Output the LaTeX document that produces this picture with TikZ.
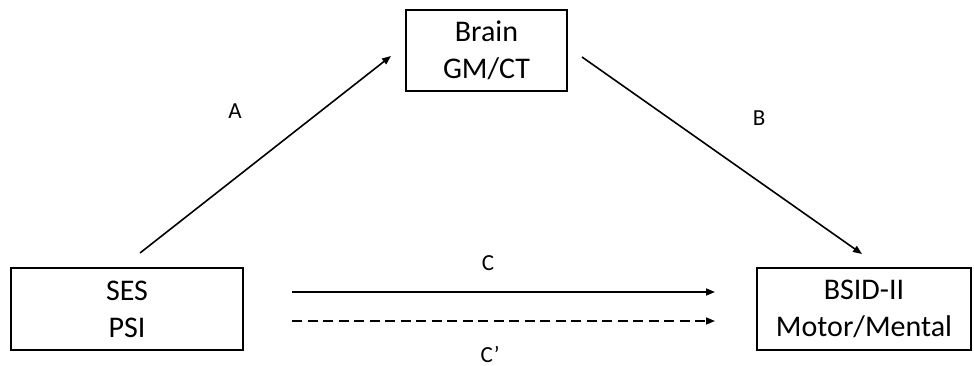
\documentclass[tikz,border=0pt]{standalone}
\usepackage{fontspec}
\setmainfont{Carlito}
\usetikzlibrary{arrows.meta}
\begin{document}
\begin{tikzpicture}[x=1pt,y=-1pt,
  box/.style={draw,line width=1.6pt,inner sep=0pt,align=center,font=\fontsize{30}{37}\selectfont},
  lbl/.style={font=\fontsize{23}{26}\selectfont,inner sep=0pt},
  arr/.style={line width=1.6pt,-{Triangle[length=9pt,width=7pt]}}]
\useasboundingbox (0,0) rectangle (974,366);
\node[box,minimum width=161pt,minimum height=81pt] (brain) at (486.5,50.5) {Brain\\GM/CT};
\node[box,minimum width=232pt,minimum height=82pt] (ses) at (127,309) {SES\\PSI};
\node[box,minimum width=214pt,minimum height=82pt] (bsid) at (864,309) {BSID-II\\Motor/Mental};
\coordinate (a1) at (140,253);
\coordinate (a2) at (391,56);
\coordinate (b1) at (582,57);
\coordinate (b2) at (862,254);
\coordinate (c1) at (292,292);
\coordinate (c2) at (715,292);
\coordinate (d1) at (292,321);
\coordinate (d2) at (715,321);
\draw[arr] (a1) -- (a2);
\draw[arr] (b1) -- (b2);
\draw[arr] (c1) -- (c2);
\draw[arr,dash pattern=on 10pt off 5.5pt] (d1) -- (d2);
\node[lbl] (la) at (235,111) {A};
\node[lbl] (lb) at (759,118) {B};
\node[lbl] (lc) at (488,263) {C};
\node[lbl,anchor=base] (lcp) at (490,362) {C’};
\end{tikzpicture}
\end{document}
